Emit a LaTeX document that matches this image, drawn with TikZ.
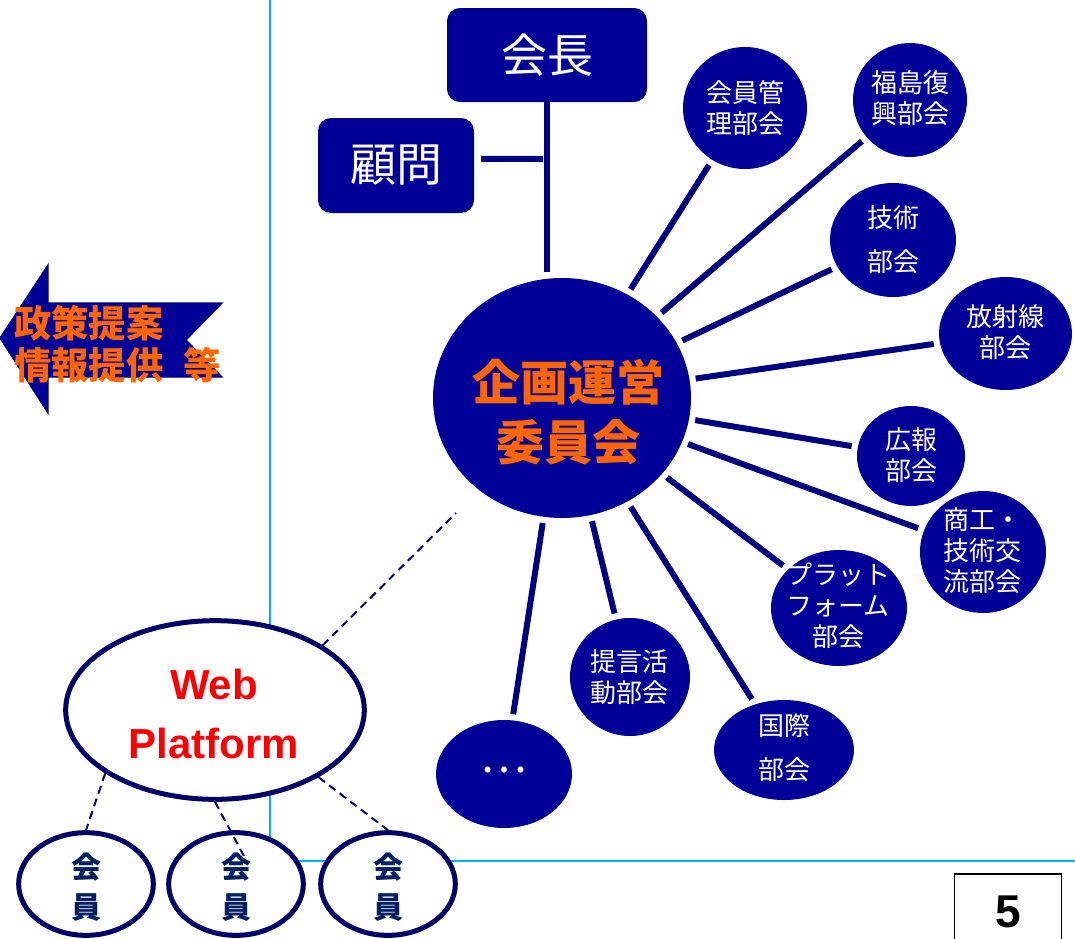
\documentclass[tikz,border=0pt]{standalone}
\usepackage{fontspec}
\usetikzlibrary{shapes.geometric}
\setmainfont{Liberation Sans}
\newfontfamily\jp{Noto Sans CJK JP}
\definecolor{fillb}{HTML}{000099}
\definecolor{lineb}{HTML}{000080}
\definecolor{edgeb}{HTML}{000066}
\definecolor{org}{HTML}{FF6600}
\definecolor{lblue}{HTML}{00B0F0}
\definecolor{memtxt}{HTML}{002060}
\tikzset{
  sat/.style={ellipse, fill=fillb, draw=none, inner sep=0pt},
  sattxt/.style={text=white, align=center, inner sep=0pt, font=\jp\fontsize{19.5}{23.25}\selectfont},
  widetxt/.style={sattxt, font=\jp\fontsize{19.5}{33}\selectfont},
  spoke/.style={draw=lineb, line width=4.5pt, shorten <=4.5pt, shorten >=4.5pt},
  trunk/.style={draw=lineb, line width=4.5pt},
  topbox/.style={rectangle, rounded corners=9pt, fill=fillb, draw=lineb, line width=1.5pt, text=white, inner sep=0pt, font=\jp\fontsize{34.5}{40}\selectfont},
  member/.style={ellipse, draw=edgeb, fill=white, line width=3.75pt, inner sep=0pt, minimum width=101pt, minimum height=77pt},
  memtext/.style={text=memtxt, align=center, inner sep=0pt, font=\jp\bfseries\fontsize{22.5}{30}\selectfont},
  dashc/.style={draw=edgeb, line width=1.5pt, dash pattern=on 6pt off 4pt},
  bluel/.style={draw=lblue, line width=1.5pt}
}
\begin{document}
\begin{tikzpicture}[x=0.75pt,y=-0.75pt]
\useasboundingbox[fill=white] (0,0) rectangle (1075,939);
\draw[bluel] (270,0) -- (270,861) -- (1075,861);

% left arrow
\draw[draw=lineb, fill=fillb, line width=1pt] (0,338) -- (48,265) -- (48,303) -- (222,303) -- (186,340) -- (222,377) -- (48,377) -- (48,413) -- cycle;
\node[anchor=west, align=left, inner sep=0pt, text=org, font=\jp\bfseries\fontsize{28}{31.5}\selectfont] (pol) at (14,344) {政策提案\\情報提供\hspace{15pt}等};

% top boxes
\node[topbox, minimum width=148.5pt, minimum height=69pt] (kaicho) at (547,55) {会長};
\node[topbox, minimum width=115.5pt, minimum height=69.75pt] (komon) at (396,165.5) {顧問};

% central circle
\node[sat, minimum width=193.5pt, minimum height=180pt] (c) at (562,398) {};
\node[text=org, align=center, inner sep=0pt, font=\jp\bfseries\fontsize{36}{45}\selectfont] (ct) at (568,412) {企画運営\\委員会};

\coordinate (vend) at (547,272);
\draw[trunk] (kaicho) -- (vend);
\coordinate (hend) at (543,159);
\draw[trunk] ([xshift=5.25pt,yshift=4.9pt]komon.east) -- (hend);

% satellites
\node[sat, minimum width=93pt, minimum height=91.5pt] (s1) at (745,108) {};
\node[sat, minimum width=85.5pt, minimum height=85.5pt] (s2) at (910,100) {};
\node[sat, minimum width=94.5pt, minimum height=85.5pt] (s3) at (893,240) {};
\node[sat, minimum width=99.75pt, minimum height=84.75pt] (s4) at (1005.5,333.5) {};
\node[sat, minimum width=81pt, minimum height=75pt] (s5) at (911,456) {};
\node[sat, minimum width=94.5pt, minimum height=91.5pt] (s6) at (983,552) {};
\node[sat, minimum width=102pt, minimum height=87pt] (s7) at (839,608) {};
\node[sat, minimum width=105pt, minimum height=75pt] (s8) at (784,750) {};
\node[sat, minimum width=90pt, minimum height=88.5pt] (s9) at (630,677) {};
\node[sat, minimum width=102pt, minimum height=81pt] (s10) at (504,774) {};

\foreach \s in {s1,s2,s3,s4,s5,s6,s7,s8,s9,s10} \draw[spoke] (c) -- (\s);

\node[sattxt] (t1) at (s1) {会員管\\理部会};
\node[sattxt] (t2) at (910,98) {福島復\\興部会};
\node[widetxt] (t3) at (s3) {技術\\部会};
\node[sattxt] (t4) at (1005,332.5) {放射線\\部会};
\node[sattxt] (t5) at (911,455) {広報\\部会};
\node[sattxt] (t6) at (982,551) {商工・\\技術交\\流部会};
\node[sattxt] (t7) at (838,606) {プラット\\フォーム\\部会};
\node[widetxt] (t8) at (784,748) {国際\\部会};
\node[sattxt] (t9) at (629,677.5) {提言活\\動部会};
\node[text=white, inner sep=0pt, font=\jp\fontsize{33}{40}\selectfont] (t10) at (504,770) {…};

% web platform
\node[ellipse, draw=edgeb, fill=white, line width=3.75pt, inner sep=0pt, minimum width=224pt, minimum height=134pt] (web) at (215,710) {};
\node[text=red, align=center, inner sep=0pt, font=\bfseries\fontsize{31.5}{44}\selectfont] (wt) at (214,714) {Web\\Platform};
\coordinate (dw) at (456,513);
\draw[dashc] (web.31.8) -- (dw);

% members
\node[member] (m1) at (86,884) {};
\node[member] (m2) at (236,884) {};
\node[member] (m3) at (388,884) {};
\coordinate (m2e) at (245,858);
\draw[dashc] (web.210.8) -- (m1.north);
\draw[dashc] (web.south) -- (m2e);
\draw[dashc] (web.-33) -- (m3.north);
\node[memtext] (mt1) at (86,887) {会\\員};
\node[memtext] (mt2) at (236,887) {会\\員};
\node[memtext] (mt3) at (388,887) {会\\員};

% page number
\node[draw=black, line width=1pt, minimum width=80pt, minimum height=57pt, inner sep=0pt, font=\bfseries\fontsize{34.5}{40}\selectfont] (pg) at (1008,912) {5};
\end{tikzpicture}
\end{document}
